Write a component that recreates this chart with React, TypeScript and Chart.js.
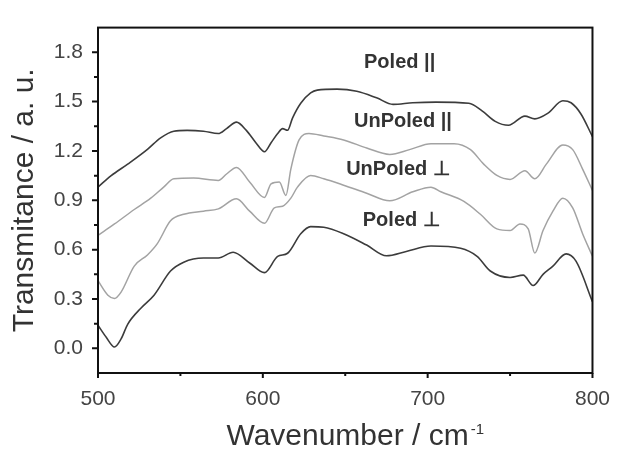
import React, { useEffect, useRef } from 'react';
import { Chart, registerables } from 'chart.js';

Chart.register(...registerables);

// ---- Data ----
const poledParX = [500, 508, 518, 530, 538, 546, 554, 564, 573, 578, 584, 590, 596, 601, 605, 609, 612, 615, 618, 623, 629, 633, 645, 657, 669, 679, 691, 705, 725, 733, 741, 749, 759, 765, 773, 782, 787, 793, 800];
const poledParY = [0.98, 1.05, 1.12, 1.21, 1.28, 1.32, 1.325, 1.32, 1.306, 1.336, 1.375, 1.325, 1.247, 1.195, 1.25, 1.306, 1.336, 1.326, 1.4, 1.49, 1.553, 1.57, 1.576, 1.563, 1.523, 1.483, 1.493, 1.497, 1.49, 1.444, 1.38, 1.356, 1.412, 1.395, 1.43, 1.505, 1.493, 1.425, 1.287];

const unpoledParX = [500, 510, 522, 532, 540, 546, 558, 573, 578, 584, 592, 601, 605, 610, 614, 617, 622, 628, 637, 649, 663, 677, 689, 702, 716, 726, 734, 742, 750, 759, 765, 772, 782, 788, 794, 800];
const unpoledParY = [0.687, 0.756, 0.844, 0.913, 0.982, 1.031, 1.035, 1.021, 1.06, 1.1, 1.011, 0.917, 1.0, 1.011, 0.929, 1.09, 1.267, 1.306, 1.291, 1.267, 1.218, 1.179, 1.208, 1.244, 1.244, 1.208, 1.12, 1.051, 1.027, 1.08, 1.031, 1.12, 1.236, 1.208, 1.09, 0.96];

const unpoledPerpX = [500, 506, 510, 514, 522, 530, 536, 544, 552, 564, 573, 584, 592, 601, 607, 612, 617, 621, 629, 637, 649, 663, 677, 691, 702, 708, 722, 732, 742, 750, 756, 761, 765, 770, 776, 782, 788, 794, 800];
const unpoledPerpY = [0.411, 0.323, 0.303, 0.342, 0.5, 0.568, 0.637, 0.775, 0.815, 0.834, 0.848, 0.909, 0.834, 0.76, 0.854, 0.864, 0.913, 0.98, 1.051, 1.031, 0.992, 0.943, 0.897, 0.952, 0.98, 0.952, 0.893, 0.815, 0.726, 0.716, 0.756, 0.726, 0.579, 0.716, 0.834, 0.913, 0.854, 0.697, 0.56];

const poledPerpX = [500, 505, 510, 514, 518, 526, 534, 544, 552, 564, 573, 582, 592, 601, 609, 615, 623, 629, 637, 649, 663, 675, 687, 702, 720, 730, 738, 750, 758, 764, 770, 776, 784, 790, 800];
const poledPerpY = [0.14, 0.067, 0.008, 0.057, 0.146, 0.244, 0.323, 0.47, 0.524, 0.549, 0.549, 0.584, 0.519, 0.46, 0.559, 0.578, 0.697, 0.74, 0.736, 0.697, 0.628, 0.563, 0.589, 0.622, 0.608, 0.559, 0.47, 0.431, 0.445, 0.382, 0.45, 0.5, 0.574, 0.53, 0.283];

const seriesNames = ['Poled ||', 'UnPoled ||', 'UnPoled ⊥', 'Poled ⊥'];
const labelX = [683, 685, 682, 684];
const labelY = [1.735, 1.381, 1.086, 0.779];

const xTicks = [500, 600, 700, 800];
const xMinorTicks = [550, 650, 750];
const yTicks = [0, 0.3, 0.6, 0.9, 1.2, 1.5, 1.8];
const yMinorTicks = [0.15, 0.45, 0.75, 1.05, 1.35, 1.65];

const xTitleMain = 'Wavenumber / cm';
const xTitleSup = '-1';
const yTitle = 'Transmitance / a. u.';

const DARK = '#3c3c3c';
const LIGHT = '#a3a3a3';
const FONT = '"Liberation Sans", Arial, sans-serif';

const toPoints = (xs: number[], ys: number[]) => xs.map((x, i) => ({ x, y: ys[i] }));

const framePlugin = {
  id: 'frameAndTicks',
  afterDraw(chart: any) {
    const { ctx, chartArea, scales } = chart;
    const xs = scales.x;
    const ys = scales.y;
    ctx.save();
    ctx.strokeStyle = '#111';
    ctx.lineWidth = 2;
    ctx.strokeRect(chartArea.left, chartArea.top, chartArea.right - chartArea.left, chartArea.bottom - chartArea.top);
    ctx.beginPath();
    xTicks.forEach((v) => {
      const p = xs.getPixelForValue(v);
      ctx.moveTo(p, chartArea.bottom);
      ctx.lineTo(p, chartArea.bottom + 5);
    });
    xMinorTicks.forEach((v) => {
      const p = xs.getPixelForValue(v);
      ctx.moveTo(p, chartArea.bottom);
      ctx.lineTo(p, chartArea.bottom + 3);
    });
    yTicks.forEach((v) => {
      const p = ys.getPixelForValue(v);
      ctx.moveTo(chartArea.left, p);
      ctx.lineTo(chartArea.left - 6, p);
    });
    yMinorTicks.forEach((v) => {
      const p = ys.getPixelForValue(v);
      ctx.moveTo(chartArea.left, p);
      ctx.lineTo(chartArea.left - 4, p);
    });
    ctx.stroke();

    // series labels
    ctx.fillStyle = '#333';
    ctx.font = `bold 20px ${FONT}`;
    ctx.textAlign = 'center';
    ctx.textBaseline = 'middle';
    seriesNames.forEach((name, i) => {
      ctx.fillText(name, xs.getPixelForValue(labelX[i]), ys.getPixelForValue(labelY[i]));
    });

    // x axis title with superscript
    ctx.fillStyle = '#333';
    ctx.textAlign = 'left';
    ctx.textBaseline = 'alphabetic';
    ctx.font = `30px ${FONT}`;
    const wMain = ctx.measureText(xTitleMain).width;
    ctx.font = `15px ${FONT}`;
    const wSup = ctx.measureText(xTitleSup).width;
    const center = (chartArea.left + chartArea.right) / 2 + 10;
    const startX = center - (wMain + 2 + wSup) / 2;
    ctx.font = `30px ${FONT}`;
    ctx.fillText(xTitleMain, startX, 445);
    ctx.font = `15px ${FONT}`;
    ctx.fillText(xTitleSup, startX + wMain + 2, 434);
    ctx.restore();
  },
};

export default function App() {
  const canvasRef = useRef<HTMLCanvasElement | null>(null);

  useEffect(() => {
    if (!canvasRef.current) return;
    const mk = (label: string, xs: number[], ys: number[], color: string, width: number) => ({
      label,
      data: toPoints(xs, ys),
      borderColor: color,
      backgroundColor: color,
      borderWidth: width,
      pointRadius: 0,
      tension: 0.4,
      cubicInterpolationMode: 'monotone' as const,
      fill: false,
    });
    const chart = new Chart(canvasRef.current, {
      type: 'line',
      data: {
        datasets: [
          mk(seriesNames[0], poledParX, poledParY, DARK, 1.6),
          mk(seriesNames[1], unpoledParX, unpoledParY, LIGHT, 1.5),
          mk(seriesNames[2], unpoledPerpX, unpoledPerpY, LIGHT, 1.5),
          mk(seriesNames[3], poledPerpX, poledPerpY, DARK, 1.6),
        ],
      },
      options: {
        responsive: false,
        animation: false,
        layout: { padding: { top: 18, right: 27, left: 0, bottom: 0 } },
        plugins: { legend: { display: false }, tooltip: { enabled: false } },
        scales: {
          x: {
            type: 'linear',
            min: 500,
            max: 800,
            grid: { display: false, drawTicks: false },
            border: { display: false },
            afterBuildTicks: (scale: any) => {
              scale.ticks = xTicks.map((v) => ({ value: v }));
            },
            afterFit: (scale: any) => {
              scale.height = 76;
            },
            ticks: {
              color: '#444',
              padding: 14,
              maxRotation: 0,
              font: { family: FONT, size: 21 },
            },
            title: { display: false },
          },
          y: {
            type: 'linear',
            min: -0.15,
            max: 1.95,
            grid: { display: false, drawTicks: false },
            border: { display: false },
            afterBuildTicks: (scale: any) => {
              scale.ticks = yTicks.map((v) => ({ value: v }));
            },
            afterFit: (scale: any) => {
              scale.width = 98;
            },
            ticks: {
              color: '#444',
              padding: 15,
              callback: (v: any) => Number(v).toFixed(1),
              font: { family: FONT, size: 21 },
            },
            title: {
              display: true,
              text: yTitle,
              color: '#333',
              padding: { top: 7, bottom: 0 },
              font: { family: FONT, size: 30, lineHeight: 1.2 },
            },
          },
        },
      },
      plugins: [framePlugin],
    });
    return () => chart.destroy();
  }, []);

  return (
    <div style={{ position: 'absolute', left: 0, top: 0, width: 624, height: 449, background: '#fff' }}>
      <canvas ref={canvasRef} width={624} height={449} style={{ display: 'block' }} />
    </div>
  );
}
